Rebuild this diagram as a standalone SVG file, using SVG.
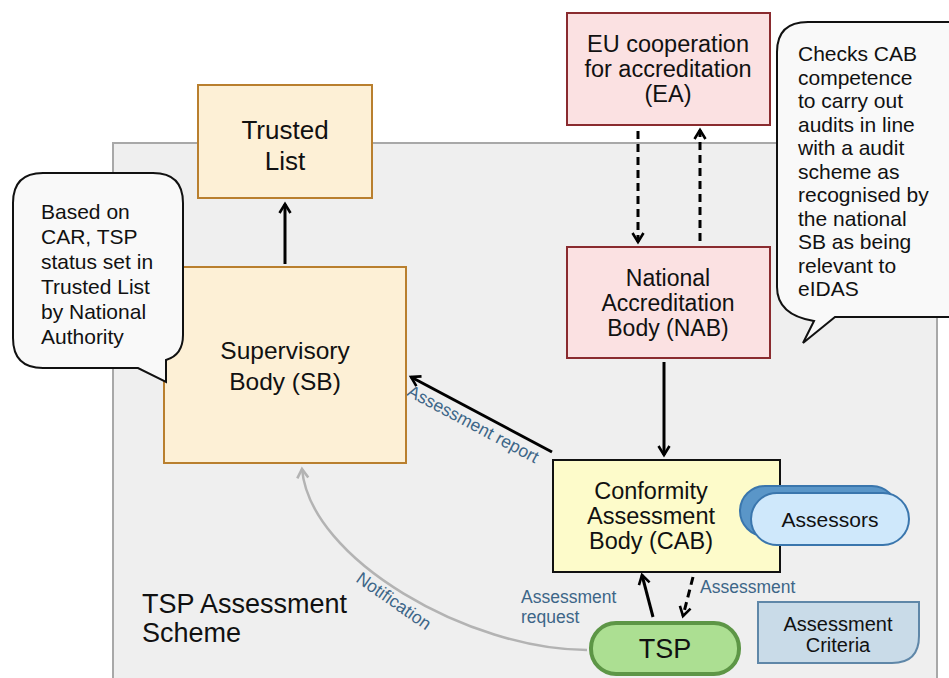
<svg xmlns="http://www.w3.org/2000/svg" width="949" height="678" viewBox="0 0 949 678">
<defs>
<style>
text{font-family:"Liberation Sans",Arial,sans-serif;fill:#111;}
.c{text-anchor:middle}
.lbl{fill:#3d6688;font-size:17.5px}
.orange{fill:#fdf0d6;stroke:#b97f2e;stroke-width:2}
.red{fill:#fbe1e2;stroke:#8a2b2f;stroke-width:2}
.conn{fill:none;stroke:#000;stroke-width:3}
.dash{stroke-dasharray:8 5}
.bubble{fill:#f9f9f9;stroke:#111;stroke-width:2}
.note{font-size:21px}
</style>
<marker id="ah" viewBox="0 0 14 14" refX="11" refY="7" markerWidth="14" markerHeight="14" markerUnits="userSpaceOnUse" orient="auto">
<path d="M2,1.5 L11,7 L2,12.5" fill="none" stroke="#000" stroke-width="2.6"/>
</marker>
<marker id="ahg" viewBox="0 0 14 14" refX="11" refY="7" markerWidth="14" markerHeight="14" markerUnits="userSpaceOnUse" orient="auto">
<path d="M2,1.5 L11,7 L2,12.5" fill="none" stroke="#b3b3b3" stroke-width="2.6"/>
</marker>
</defs>
<rect width="949" height="678" fill="#fff"/>
<g id="scheme">
<rect x="113" y="143" width="824" height="560" fill="#efefef" stroke="#a8a8a8" stroke-width="2"/>
<text x="142" y="613" font-size="27" fill="#222">TSP Assessment</text>
<text x="142" y="642" font-size="27" fill="#222">Scheme</text>
</g>
<g id="connectors">
<line class="conn" x1="285" y1="264" x2="285" y2="204" marker-end="url(#ah)"/>
<line class="conn dash" x1="638" y1="131" x2="638" y2="242" marker-end="url(#ah)"/>
<line class="conn dash" x1="700" y1="241" x2="700" y2="130" marker-end="url(#ah)"/>
<line class="conn" x1="664" y1="362" x2="664" y2="455" marker-end="url(#ah)"/>
<line class="conn" x1="552" y1="452" x2="411" y2="377" marker-end="url(#ah)"/>
<line class="conn" x1="653" y1="617" x2="642" y2="575" marker-end="url(#ah)"/>
<line class="conn dash" x1="693" y1="577" x2="683" y2="616" marker-end="url(#ah)"/>
<path d="M587,650 C470,650 310,560 302,469" fill="none" stroke="#b3b3b3" stroke-width="2.5" marker-end="url(#ahg)"/>
<text class="lbl" transform="translate(406,395) rotate(28)">Assessment report</text>
<text class="lbl" transform="translate(355,581) rotate(35)">Notification</text>
<text class="lbl" x="700" y="593">Assessment</text>
<text class="lbl" x="521" y="603">Assessment</text>
<text class="lbl" x="521" y="623">request</text>
</g>
<g id="trusted-list">
<rect class="orange" x="198" y="85" width="174" height="113"/>
<text class="c" x="285" y="139" font-size="26">Trusted</text>
<text class="c" x="285" y="170" font-size="26">List</text>
</g>
<g id="sb">
<rect class="orange" x="164" y="267" width="242" height="196"/>
<text class="c" x="285" y="359" font-size="24.5">Supervisory</text>
<text class="c" x="285" y="390" font-size="24.5">Body (SB)</text>
</g>
<g id="ea">
<rect class="red" x="567" y="13" width="203" height="112"/>
<text class="c" x="668" y="52" font-size="23.5">EU cooperation</text>
<text class="c" x="668" y="77" font-size="23.5">for accreditation</text>
<text class="c" x="668" y="102" font-size="23.5">(EA)</text>
</g>
<g id="nab">
<rect class="red" x="567" y="247" width="203" height="111"/>
<text class="c" x="668" y="286" font-size="23">National</text>
<text class="c" x="668" y="311" font-size="23">Accreditation</text>
<text class="c" x="668" y="336" font-size="23">Body (NAB)</text>
</g>
<g id="cab">
<rect x="553" y="460" width="227" height="112" fill="#fdfbca" stroke="#111" stroke-width="2"/>
<text class="c" x="651" y="499" font-size="23.5">Conformity</text>
<text class="c" x="651" y="524" font-size="23.5">Assessment</text>
<text class="c" x="651" y="549" font-size="23.5">Body (CAB)</text>
</g>
<g id="assessors">
<rect x="740" y="486" width="157" height="50" rx="25" fill="#5a96c8" stroke="#3a76ad" stroke-width="2"/>
<rect x="751" y="493" width="158" height="52" rx="26" fill="#cfe8fb" stroke="#3a76ad" stroke-width="2"/>
<text class="c" x="830" y="527" font-size="21">Assessors</text>
</g>
<g id="tsp">
<rect x="591" y="623" width="148" height="51" rx="25" fill="#acdf92" stroke="#5d9646" stroke-width="4"/>
<text class="c" x="665" y="658" font-size="27">TSP</text>
</g>
<g id="criteria">
<path d="M758,602 H919 V636 Q919,663 892,663 H758 Z" fill="#c9dbe8" stroke="#5f87a8" stroke-width="2"/>
<text class="c" x="838" y="631" font-size="20">Assessment</text>
<text class="c" x="838" y="652" font-size="20">Criteria</text>
</g>
<g id="note-tl">
<path class="bubble" d="M43,173 H153 Q183,173 183,203 V335 Q183,355 166,360 L166,382 L138,368 H43 Q13,368 13,338 V203 Q13,173 43,173 Z"/>
<text class="note" x="41" y="219">Based on</text>
<text class="note" x="41" y="244">CAR, TSP</text>
<text class="note" x="41" y="269">status set in</text>
<text class="note" x="41" y="294">Trusted List</text>
<text class="note" x="41" y="319">by National</text>
<text class="note" x="41" y="344">Authority</text>
</g>
<g id="note-eidas">
<path class="bubble" d="M808,22 H960 V317 H835 L803,343 L814,321 Q777,315 777,287 V52 Q777,22 808,22 Z"/>
<text class="note" x="798" y="61">Checks CAB</text>
<text class="note" x="798" y="84.5">competence</text>
<text class="note" x="798" y="108">to carry out</text>
<text class="note" x="798" y="131.5">audits in line</text>
<text class="note" x="798" y="155">with a audit</text>
<text class="note" x="798" y="178.5">scheme as</text>
<text class="note" x="798" y="202">recognised by</text>
<text class="note" x="798" y="225.5">the national</text>
<text class="note" x="798" y="249">SB as being</text>
<text class="note" x="798" y="272.5">relevant to</text>
<text class="note" x="798" y="296">eIDAS</text>
</g>
</svg>
